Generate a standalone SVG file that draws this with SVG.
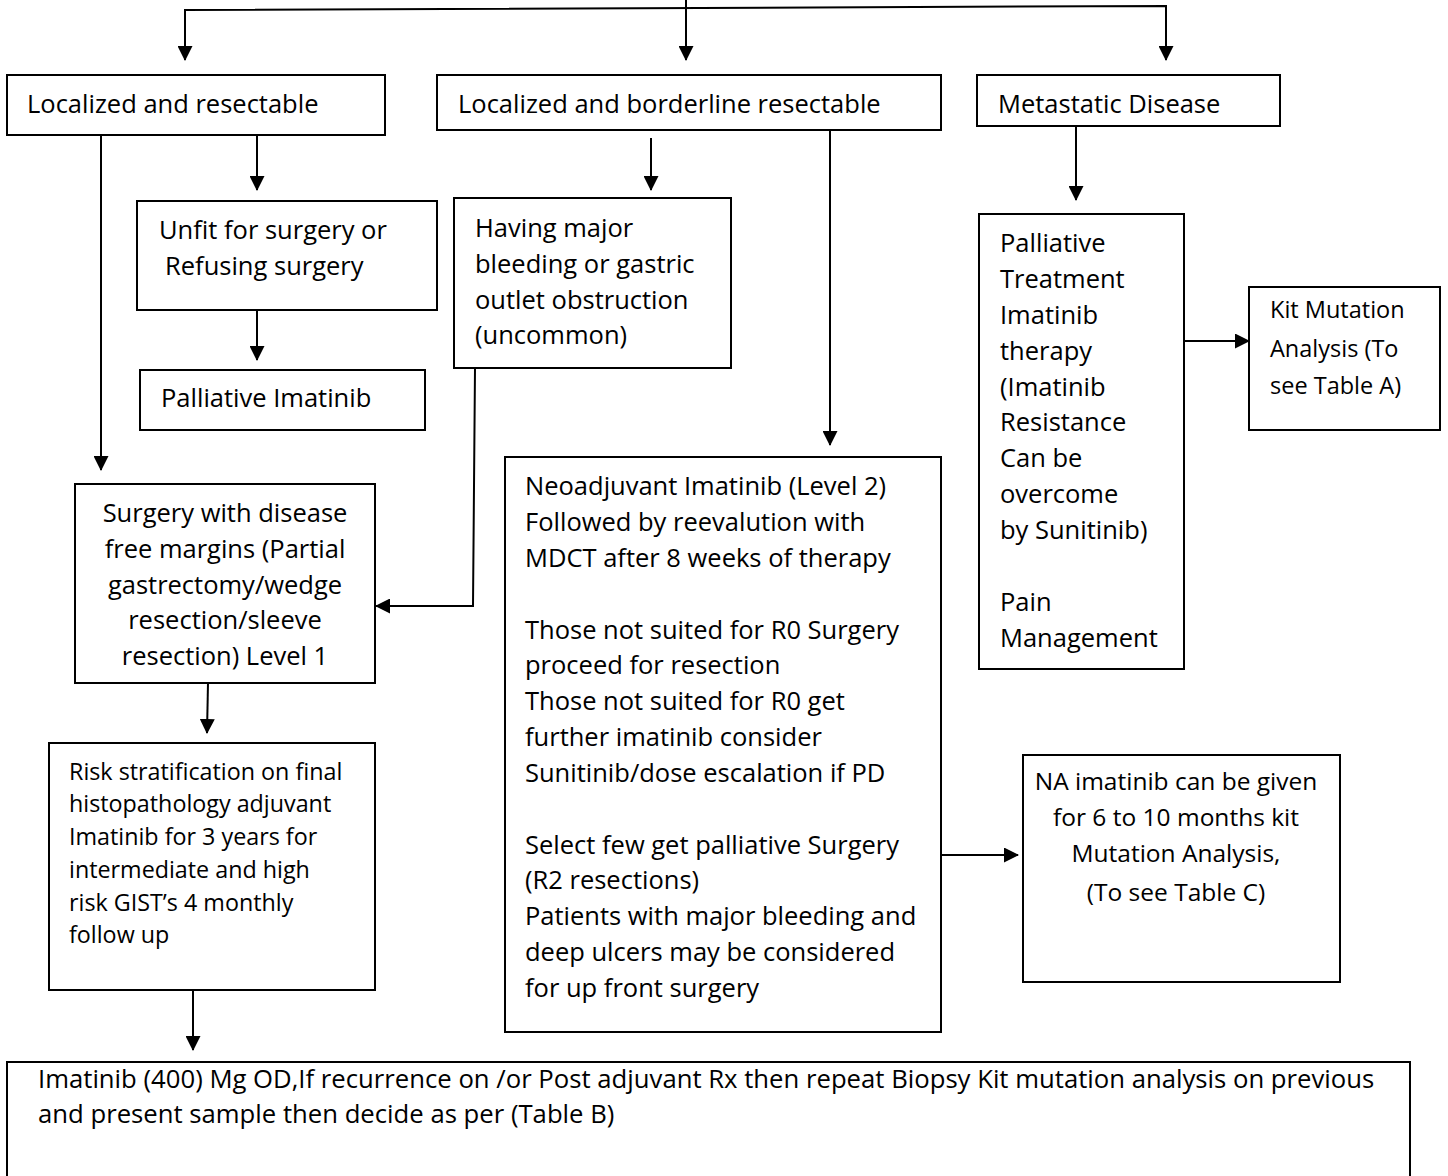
<svg xmlns="http://www.w3.org/2000/svg" width="1448" height="1176" viewBox="0 0 1448 1176">
<style>
.box{fill:#fff;stroke:#000;stroke-width:2}
.t{font-family:"Open Sans","Noto Sans",sans-serif;font-size:25.5px;fill:#000}
.s{font-family:"Open Sans","Noto Sans",sans-serif;font-size:23.3px;fill:#000}
.k{font-family:"Open Sans","Noto Sans",sans-serif;font-size:23.5px;fill:#000}
.n{font-family:"Open Sans","Noto Sans",sans-serif;font-size:24.5px;fill:#000}
.c{stroke:#000;stroke-width:2;fill:none}
</style>
<defs>
<marker id="ah2" markerWidth="15" markerHeight="15" refX="14" refY="7.5" orient="auto" markerUnits="userSpaceOnUse" viewBox="0 0 15 15">
<path d="M0,0 L15,7.5 L0,15 z" fill="#000"/>
</marker>
</defs>
<g id="connectors">
<path class="c" d="M686,0 V60" marker-end="url(#ah2)"/>
<path class="c" d="M185,60 V10 L1166,6 V60" marker-end="url(#ah2)"/>
<path class="c" d="M185,12 V60" marker-end="url(#ah2)"/>
<path class="c" d="M101,135 V470" marker-end="url(#ah2)"/>
<path class="c" d="M257,135 V190" marker-end="url(#ah2)"/>
<path class="c" d="M257,310 V360" marker-end="url(#ah2)"/>
<path class="c" d="M651,138 V190" marker-end="url(#ah2)"/>
<path class="c" d="M830,130 V445" marker-end="url(#ah2)"/>
<path class="c" d="M475,368 L473,606 H376" marker-end="url(#ah2)"/>
<path class="c" d="M208,683 L207,733" marker-end="url(#ah2)"/>
<path class="c" d="M193,990 V1050" marker-end="url(#ah2)"/>
<path class="c" d="M1076,126 V200" marker-end="url(#ah2)"/>
<path class="c" d="M1184,341 H1249" marker-end="url(#ah2)"/>
<path class="c" d="M941,855 H1018" marker-end="url(#ah2)"/>
</g>
<g id="n1"><rect class="box" x="7" y="75" width="378" height="60"/><text class="t" x="27" y="113">Localized and resectable</text></g>
<g id="n2"><rect class="box" x="437" y="75" width="504" height="55"/><text class="t" x="458" y="113">Localized and borderline resectable</text></g>
<g id="n3"><rect class="box" x="977" y="75" width="303" height="51"/><text class="t" x="998" y="113">Metastatic Disease</text></g>
<g id="n4"><rect class="box" x="137" y="201" width="300" height="109"/><text class="t" x="159" y="239">Unfit for surgery or</text><text class="t" x="165" y="275">Refusing surgery</text></g>
<g id="n5"><rect class="box" x="140" y="370" width="285" height="60"/><text class="t" x="161" y="407">Palliative Imatinib</text></g>
<g id="n6"><rect class="box" x="454" y="198" width="277" height="170"/>
<text class="t" x="475" y="237">Having major</text><text class="t" x="475" y="273">bleeding or gastric</text><text class="t" x="475" y="309">outlet obstruction</text><text class="t" x="475" y="344">(uncommon)</text></g>
<g id="n7"><rect class="box" x="75" y="484" width="300" height="199"/>
<g class="t" text-anchor="middle"><text x="225" y="522">Surgery with disease</text><text x="225" y="558">free margins (Partial</text><text x="225" y="594">gastrectomy/wedge</text><text x="225" y="629">resection/sleeve</text><text x="225" y="665">resection) Level 1</text></g></g>
<g id="n8"><rect class="box" x="49" y="743" width="326" height="247"/>
<g class="s"><text x="69" y="780">Risk stratification on final</text><text x="69" y="812">histopathology adjuvant</text><text x="69" y="845">Imatinib for 3 years for</text><text x="69" y="878">intermediate and high</text><text x="69" y="911">risk GIST’s 4 monthly</text><text x="69" y="943">follow up</text></g></g>
<g id="n9"><rect class="box" x="505" y="457" width="436" height="575"/>
<g class="t"><text x="525" y="495">Neoadjuvant Imatinib (Level 2)</text><text x="525" y="531">Followed by reevalution with</text><text x="525" y="567">MDCT after 8 weeks of therapy</text>
<text x="525" y="639">Those not suited for R0 Surgery</text><text x="525" y="674">proceed for resection</text><text x="525" y="710">Those not suited for R0 get</text><text x="525" y="746">further imatinib consider</text><text x="525" y="782">Sunitinib/dose escalation if PD</text>
<text x="525" y="854">Select few get palliative Surgery</text><text x="525" y="889">(R2 resections)</text><text x="525" y="925">Patients with major bleeding and</text><text x="525" y="961">deep ulcers may be considered</text><text x="525" y="997">for up front surgery</text></g></g>
<g id="n10"><rect class="box" x="979" y="214" width="205" height="455"/>
<g class="t"><text x="1000" y="252">Palliative</text><text x="1000" y="288">Treatment</text><text x="1000" y="324">Imatinib</text><text x="1000" y="360">therapy</text><text x="1000" y="396">(Imatinib</text><text x="1000" y="431">Resistance</text><text x="1000" y="467">Can be</text><text x="1000" y="503">overcome</text><text x="1000" y="539">by Sunitinib)</text><text x="1000" y="611">Pain</text><text x="1000" y="647">Management</text></g></g>
<g id="n11"><rect class="box" x="1249" y="287" width="191" height="143"/>
<g class="k"><text x="1270" y="318">Kit Mutation</text><text x="1270" y="357">Analysis (To</text><text x="1270" y="394">see Table A)</text></g></g>
<g id="n12"><rect class="box" x="1023" y="755" width="317" height="227"/>
<g class="n" text-anchor="middle"><text x="1176" y="790">NA imatinib can be given</text><text x="1176" y="826">for 6 to 10 months kit</text><text x="1176" y="862">Mutation Analysis,</text><text x="1176" y="901">(To see Table C)</text></g></g>
<g id="n13"><rect class="box" x="7" y="1062" width="1403" height="130"/>
<g class="t" style="font-size:25.7px"><text x="38" y="1088">Imatinib (400) Mg OD,If recurrence on /or Post adjuvant Rx then repeat Biopsy Kit mutation analysis on previous</text><text x="38" y="1123">and present sample then decide as per (Table B)</text></g></g>
</svg>
